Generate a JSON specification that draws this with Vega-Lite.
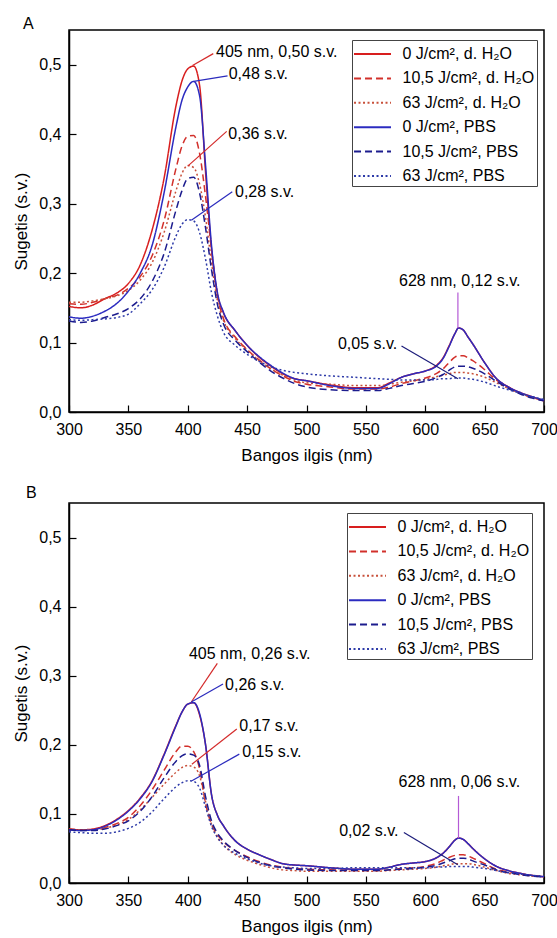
{
  "$schema": "https://vega.github.io/schema/vega-lite/v6.json",
  "padding": {"left": 12, "top": 15, "right": 4, "bottom": 4},
  "background": "white",
  "config": {
    "font": "Liberation Sans",
    "view": {"stroke": "#000", "strokeWidth": 1.5},
    "title": {"fontSize": 16, "fontWeight": "normal", "color": "#000", "anchor": "start", "frame": "group"},
    "axis": {
      "grid": false, "domainColor": "#000", "domainWidth": 1.5, "tickColor": "#000", "tickWidth": 1.2,
      "labelFontSize": 16, "titleFontSize": 17, "titleFontWeight": "normal", "labelColor": "#000", "titleColor": "#000",
      "labelOverlap": false, "labelFlush": false
    },
    "legend": {
      "orient": "none", "title": null, "labelFontSize": 16, "labelColor": "#000",
      "symbolType": "M-1.68,0H1.68", "symbolSize": 484, "symbolStrokeWidth": 2, "symbolOffset": 6.5,
      "labelOffset": 18, "rowPadding": 4.4, "padding": 2, "strokeColor": "#444", "fillColor": "white"
    }
  },
  "datasets": {
    "specA": [
      {"s":"h0","x":300,"y":0.152},{"s":"h0","x":310,"y":0.150},{"s":"h0","x":320,"y":0.154},{"s":"h0","x":330,"y":0.163},{"s":"h0","x":340,"y":0.171},{"s":"h0","x":350,"y":0.185},{"s":"h0","x":360,"y":0.212},{"s":"h0","x":370,"y":0.262},{"s":"h0","x":380,"y":0.336},{"s":"h0","x":390,"y":0.44},{"s":"h0","x":395,"y":0.476},{"s":"h0","x":400,"y":0.494},{"s":"h0","x":405,"y":0.498},{"s":"h0","x":410,"y":0.47},{"s":"h0","x":415,"y":0.345},{"s":"h0","x":420,"y":0.235},{"s":"h0","x":425,"y":0.17},{"s":"h0","x":430,"y":0.143},{"s":"h0","x":440,"y":0.117},{"s":"h0","x":450,"y":0.096},{"s":"h0","x":460,"y":0.079},{"s":"h0","x":470,"y":0.066},{"s":"h0","x":480,"y":0.055},{"s":"h0","x":490,"y":0.048},{"s":"h0","x":500,"y":0.045},{"s":"h0","x":520,"y":0.039},{"s":"h0","x":540,"y":0.035},{"s":"h0","x":560,"y":0.035},{"s":"h0","x":570,"y":0.042},{"s":"h0","x":580,"y":0.050},{"s":"h0","x":590,"y":0.055},{"s":"h0","x":600,"y":0.059},{"s":"h0","x":610,"y":0.068},{"s":"h0","x":615,"y":0.078},{"s":"h0","x":620,"y":0.095},{"s":"h0","x":625,"y":0.113},{"s":"h0","x":628,"y":0.121},{"s":"h0","x":632,"y":0.118},{"s":"h0","x":636,"y":0.108},{"s":"h0","x":640,"y":0.098},{"s":"h0","x":650,"y":0.071},{"s":"h0","x":660,"y":0.048},{"s":"h0","x":670,"y":0.036},{"s":"h0","x":680,"y":0.028},{"s":"h0","x":690,"y":0.022},{"s":"h0","x":700,"y":0.016},
      {"s":"h10","x":300,"y":0.156},{"s":"h10","x":310,"y":0.155},{"s":"h10","x":320,"y":0.158},{"s":"h10","x":330,"y":0.163},{"s":"h10","x":340,"y":0.168},{"s":"h10","x":350,"y":0.178},{"s":"h10","x":360,"y":0.195},{"s":"h10","x":370,"y":0.225},{"s":"h10","x":380,"y":0.275},{"s":"h10","x":390,"y":0.35},{"s":"h10","x":395,"y":0.382},{"s":"h10","x":400,"y":0.397},{"s":"h10","x":405,"y":0.398},{"s":"h10","x":410,"y":0.372},{"s":"h10","x":415,"y":0.31},{"s":"h10","x":420,"y":0.235},{"s":"h10","x":425,"y":0.168},{"s":"h10","x":430,"y":0.135},{"s":"h10","x":440,"y":0.108},{"s":"h10","x":450,"y":0.09},{"s":"h10","x":460,"y":0.075},{"s":"h10","x":470,"y":0.062},{"s":"h10","x":480,"y":0.052},{"s":"h10","x":490,"y":0.044},{"s":"h10","x":500,"y":0.040},{"s":"h10","x":520,"y":0.036},{"s":"h10","x":540,"y":0.033},{"s":"h10","x":560,"y":0.033},{"s":"h10","x":570,"y":0.036},{"s":"h10","x":580,"y":0.041},{"s":"h10","x":590,"y":0.045},{"s":"h10","x":600,"y":0.049},{"s":"h10","x":610,"y":0.056},{"s":"h10","x":615,"y":0.062},{"s":"h10","x":620,"y":0.071},{"s":"h10","x":625,"y":0.079},{"s":"h10","x":628,"y":0.081},{"s":"h10","x":632,"y":0.081},{"s":"h10","x":636,"y":0.078},{"s":"h10","x":640,"y":0.074},{"s":"h10","x":650,"y":0.061},{"s":"h10","x":660,"y":0.046},{"s":"h10","x":670,"y":0.036},{"s":"h10","x":680,"y":0.027},{"s":"h10","x":690,"y":0.021},{"s":"h10","x":700,"y":0.016},
      {"s":"h63","x":300,"y":0.158},{"s":"h63","x":310,"y":0.158},{"s":"h63","x":320,"y":0.160},{"s":"h63","x":330,"y":0.163},{"s":"h63","x":340,"y":0.167},{"s":"h63","x":350,"y":0.175},{"s":"h63","x":360,"y":0.19},{"s":"h63","x":370,"y":0.215},{"s":"h63","x":380,"y":0.258},{"s":"h63","x":390,"y":0.318},{"s":"h63","x":395,"y":0.343},{"s":"h63","x":400,"y":0.355},{"s":"h63","x":405,"y":0.352},{"s":"h63","x":410,"y":0.328},{"s":"h63","x":415,"y":0.28},{"s":"h63","x":420,"y":0.215},{"s":"h63","x":425,"y":0.16},{"s":"h63","x":430,"y":0.132},{"s":"h63","x":440,"y":0.106},{"s":"h63","x":450,"y":0.089},{"s":"h63","x":460,"y":0.074},{"s":"h63","x":470,"y":0.062},{"s":"h63","x":480,"y":0.053},{"s":"h63","x":490,"y":0.046},{"s":"h63","x":500,"y":0.042},{"s":"h63","x":520,"y":0.040},{"s":"h63","x":540,"y":0.038},{"s":"h63","x":560,"y":0.038},{"s":"h63","x":570,"y":0.040},{"s":"h63","x":580,"y":0.043},{"s":"h63","x":590,"y":0.045},{"s":"h63","x":600,"y":0.047},{"s":"h63","x":610,"y":0.051},{"s":"h63","x":615,"y":0.053},{"s":"h63","x":620,"y":0.055},{"s":"h63","x":625,"y":0.057},{"s":"h63","x":628,"y":0.057},{"s":"h63","x":632,"y":0.057},{"s":"h63","x":636,"y":0.056},{"s":"h63","x":640,"y":0.055},{"s":"h63","x":650,"y":0.05},{"s":"h63","x":660,"y":0.042},{"s":"h63","x":670,"y":0.034},{"s":"h63","x":680,"y":0.027},{"s":"h63","x":690,"y":0.021},{"s":"h63","x":700,"y":0.017},
      {"s":"p0","x":300,"y":0.137},{"s":"p0","x":310,"y":0.135},{"s":"p0","x":320,"y":0.138},{"s":"p0","x":330,"y":0.145},{"s":"p0","x":340,"y":0.156},{"s":"p0","x":350,"y":0.174},{"s":"p0","x":360,"y":0.200},{"s":"p0","x":370,"y":0.240},{"s":"p0","x":380,"y":0.315},{"s":"p0","x":390,"y":0.41},{"s":"p0","x":395,"y":0.448},{"s":"p0","x":400,"y":0.468},{"s":"p0","x":405,"y":0.476},{"s":"p0","x":410,"y":0.455},{"s":"p0","x":415,"y":0.355},{"s":"p0","x":420,"y":0.24},{"s":"p0","x":425,"y":0.172},{"s":"p0","x":430,"y":0.144},{"s":"p0","x":440,"y":0.117},{"s":"p0","x":450,"y":0.096},{"s":"p0","x":460,"y":0.080},{"s":"p0","x":470,"y":0.067},{"s":"p0","x":480,"y":0.056},{"s":"p0","x":490,"y":0.048},{"s":"p0","x":500,"y":0.045},{"s":"p0","x":520,"y":0.038},{"s":"p0","x":540,"y":0.034},{"s":"p0","x":560,"y":0.034},{"s":"p0","x":570,"y":0.041},{"s":"p0","x":580,"y":0.050},{"s":"p0","x":590,"y":0.055},{"s":"p0","x":600,"y":0.059},{"s":"p0","x":610,"y":0.067},{"s":"p0","x":615,"y":0.077},{"s":"p0","x":620,"y":0.094},{"s":"p0","x":625,"y":0.113},{"s":"p0","x":628,"y":0.121},{"s":"p0","x":632,"y":0.118},{"s":"p0","x":636,"y":0.108},{"s":"p0","x":640,"y":0.098},{"s":"p0","x":650,"y":0.071},{"s":"p0","x":660,"y":0.048},{"s":"p0","x":670,"y":0.036},{"s":"p0","x":680,"y":0.028},{"s":"p0","x":690,"y":0.022},{"s":"p0","x":700,"y":0.017},
      {"s":"p10","x":300,"y":0.131},{"s":"p10","x":310,"y":0.129},{"s":"p10","x":320,"y":0.131},{"s":"p10","x":330,"y":0.136},{"s":"p10","x":340,"y":0.141},{"s":"p10","x":350,"y":0.149},{"s":"p10","x":360,"y":0.163},{"s":"p10","x":370,"y":0.188},{"s":"p10","x":380,"y":0.228},{"s":"p10","x":390,"y":0.29},{"s":"p10","x":395,"y":0.318},{"s":"p10","x":400,"y":0.336},{"s":"p10","x":405,"y":0.338},{"s":"p10","x":410,"y":0.315},{"s":"p10","x":415,"y":0.265},{"s":"p10","x":420,"y":0.205},{"s":"p10","x":425,"y":0.155},{"s":"p10","x":430,"y":0.127},{"s":"p10","x":440,"y":0.103},{"s":"p10","x":450,"y":0.087},{"s":"p10","x":460,"y":0.072},{"s":"p10","x":470,"y":0.059},{"s":"p10","x":480,"y":0.049},{"s":"p10","x":490,"y":0.041},{"s":"p10","x":500,"y":0.036},{"s":"p10","x":520,"y":0.032},{"s":"p10","x":540,"y":0.031},{"s":"p10","x":560,"y":0.031},{"s":"p10","x":570,"y":0.034},{"s":"p10","x":580,"y":0.038},{"s":"p10","x":590,"y":0.041},{"s":"p10","x":600,"y":0.044},{"s":"p10","x":610,"y":0.05},{"s":"p10","x":615,"y":0.054},{"s":"p10","x":620,"y":0.06},{"s":"p10","x":625,"y":0.065},{"s":"p10","x":628,"y":0.066},{"s":"p10","x":632,"y":0.066},{"s":"p10","x":636,"y":0.065},{"s":"p10","x":640,"y":0.063},{"s":"p10","x":650,"y":0.055},{"s":"p10","x":660,"y":0.044},{"s":"p10","x":670,"y":0.034},{"s":"p10","x":680,"y":0.026},{"s":"p10","x":690,"y":0.020},{"s":"p10","x":700,"y":0.016},
      {"s":"p63","x":300,"y":0.133},{"s":"p63","x":310,"y":0.132},{"s":"p63","x":320,"y":0.133},{"s":"p63","x":330,"y":0.134},{"s":"p63","x":340,"y":0.136},{"s":"p63","x":350,"y":0.141},{"s":"p63","x":360,"y":0.156},{"s":"p63","x":370,"y":0.176},{"s":"p63","x":380,"y":0.208},{"s":"p63","x":390,"y":0.253},{"s":"p63","x":395,"y":0.27},{"s":"p63","x":400,"y":0.277},{"s":"p63","x":405,"y":0.275},{"s":"p63","x":410,"y":0.258},{"s":"p63","x":415,"y":0.22},{"s":"p63","x":420,"y":0.172},{"s":"p63","x":425,"y":0.138},{"s":"p63","x":430,"y":0.115},{"s":"p63","x":440,"y":0.096},{"s":"p63","x":450,"y":0.083},{"s":"p63","x":460,"y":0.073},{"s":"p63","x":470,"y":0.065},{"s":"p63","x":480,"y":0.06},{"s":"p63","x":490,"y":0.057},{"s":"p63","x":500,"y":0.055},{"s":"p63","x":520,"y":0.052},{"s":"p63","x":540,"y":0.050},{"s":"p63","x":560,"y":0.048},{"s":"p63","x":570,"y":0.047},{"s":"p63","x":580,"y":0.046},{"s":"p63","x":590,"y":0.046},{"s":"p63","x":600,"y":0.046},{"s":"p63","x":610,"y":0.047},{"s":"p63","x":615,"y":0.048},{"s":"p63","x":620,"y":0.048},{"s":"p63","x":625,"y":0.049},{"s":"p63","x":628,"y":0.049},{"s":"p63","x":632,"y":0.049},{"s":"p63","x":636,"y":0.048},{"s":"p63","x":640,"y":0.047},{"s":"p63","x":650,"y":0.043},{"s":"p63","x":660,"y":0.037},{"s":"p63","x":670,"y":0.032},{"s":"p63","x":680,"y":0.027},{"s":"p63","x":690,"y":0.022},{"s":"p63","x":700,"y":0.018}
    ],
    "specB": [
      {"s":"h0","x":300,"y":0.078},{"s":"h0","x":310,"y":0.077},{"s":"h0","x":320,"y":0.078},{"s":"h0","x":330,"y":0.083},{"s":"h0","x":340,"y":0.092},{"s":"h0","x":350,"y":0.105},{"s":"h0","x":360,"y":0.123},{"s":"h0","x":370,"y":0.148},{"s":"h0","x":380,"y":0.186},{"s":"h0","x":390,"y":0.228},{"s":"h0","x":395,"y":0.247},{"s":"h0","x":400,"y":0.259},{"s":"h0","x":405,"y":0.261},{"s":"h0","x":410,"y":0.243},{"s":"h0","x":415,"y":0.2},{"s":"h0","x":420,"y":0.128},{"s":"h0","x":425,"y":0.098},{"s":"h0","x":430,"y":0.083},{"s":"h0","x":440,"y":0.061},{"s":"h0","x":450,"y":0.049},{"s":"h0","x":460,"y":0.041},{"s":"h0","x":470,"y":0.034},{"s":"h0","x":480,"y":0.028},{"s":"h0","x":490,"y":0.026},{"s":"h0","x":500,"y":0.025},{"s":"h0","x":520,"y":0.022},{"s":"h0","x":540,"y":0.020},{"s":"h0","x":560,"y":0.020},{"s":"h0","x":570,"y":0.023},{"s":"h0","x":580,"y":0.027},{"s":"h0","x":590,"y":0.029},{"s":"h0","x":600,"y":0.031},{"s":"h0","x":610,"y":0.037},{"s":"h0","x":615,"y":0.043},{"s":"h0","x":620,"y":0.052},{"s":"h0","x":625,"y":0.062},{"s":"h0","x":628,"y":0.065},{"s":"h0","x":632,"y":0.063},{"s":"h0","x":636,"y":0.057},{"s":"h0","x":640,"y":0.050},{"s":"h0","x":650,"y":0.035},{"s":"h0","x":660,"y":0.024},{"s":"h0","x":670,"y":0.018},{"s":"h0","x":680,"y":0.014},{"s":"h0","x":690,"y":0.011},{"s":"h0","x":700,"y":0.009},
      {"s":"h10","x":300,"y":0.078},{"s":"h10","x":310,"y":0.077},{"s":"h10","x":320,"y":0.077},{"s":"h10","x":330,"y":0.080},{"s":"h10","x":340,"y":0.086},{"s":"h10","x":350,"y":0.095},{"s":"h10","x":360,"y":0.112},{"s":"h10","x":370,"y":0.135},{"s":"h10","x":380,"y":0.163},{"s":"h10","x":390,"y":0.19},{"s":"h10","x":395,"y":0.198},{"s":"h10","x":400,"y":0.198},{"s":"h10","x":405,"y":0.19},{"s":"h10","x":410,"y":0.165},{"s":"h10","x":415,"y":0.115},{"s":"h10","x":420,"y":0.085},{"s":"h10","x":425,"y":0.07},{"s":"h10","x":430,"y":0.06},{"s":"h10","x":440,"y":0.047},{"s":"h10","x":450,"y":0.038},{"s":"h10","x":460,"y":0.031},{"s":"h10","x":470,"y":0.026},{"s":"h10","x":480,"y":0.023},{"s":"h10","x":490,"y":0.021},{"s":"h10","x":500,"y":0.020},{"s":"h10","x":520,"y":0.019},{"s":"h10","x":540,"y":0.018},{"s":"h10","x":560,"y":0.018},{"s":"h10","x":570,"y":0.019},{"s":"h10","x":580,"y":0.021},{"s":"h10","x":590,"y":0.022},{"s":"h10","x":600,"y":0.024},{"s":"h10","x":610,"y":0.029},{"s":"h10","x":615,"y":0.033},{"s":"h10","x":620,"y":0.037},{"s":"h10","x":625,"y":0.040},{"s":"h10","x":628,"y":0.041},{"s":"h10","x":632,"y":0.041},{"s":"h10","x":636,"y":0.039},{"s":"h10","x":640,"y":0.036},{"s":"h10","x":650,"y":0.028},{"s":"h10","x":660,"y":0.020},{"s":"h10","x":670,"y":0.016},{"s":"h10","x":680,"y":0.013},{"s":"h10","x":690,"y":0.011},{"s":"h10","x":700,"y":0.009},
      {"s":"h63","x":300,"y":0.077},{"s":"h63","x":310,"y":0.077},{"s":"h63","x":320,"y":0.077},{"s":"h63","x":330,"y":0.079},{"s":"h63","x":340,"y":0.084},{"s":"h63","x":350,"y":0.092},{"s":"h63","x":360,"y":0.106},{"s":"h63","x":370,"y":0.124},{"s":"h63","x":380,"y":0.143},{"s":"h63","x":390,"y":0.160},{"s":"h63","x":395,"y":0.167},{"s":"h63","x":400,"y":0.170},{"s":"h63","x":405,"y":0.168},{"s":"h63","x":410,"y":0.155},{"s":"h63","x":415,"y":0.118},{"s":"h63","x":420,"y":0.085},{"s":"h63","x":425,"y":0.066},{"s":"h63","x":430,"y":0.055},{"s":"h63","x":440,"y":0.041},{"s":"h63","x":450,"y":0.033},{"s":"h63","x":460,"y":0.027},{"s":"h63","x":470,"y":0.022},{"s":"h63","x":480,"y":0.019},{"s":"h63","x":490,"y":0.018},{"s":"h63","x":500,"y":0.017},{"s":"h63","x":520,"y":0.017},{"s":"h63","x":540,"y":0.017},{"s":"h63","x":560,"y":0.017},{"s":"h63","x":570,"y":0.018},{"s":"h63","x":580,"y":0.019},{"s":"h63","x":590,"y":0.020},{"s":"h63","x":600,"y":0.021},{"s":"h63","x":610,"y":0.023},{"s":"h63","x":615,"y":0.025},{"s":"h63","x":620,"y":0.026},{"s":"h63","x":625,"y":0.028},{"s":"h63","x":628,"y":0.028},{"s":"h63","x":632,"y":0.028},{"s":"h63","x":636,"y":0.028},{"s":"h63","x":640,"y":0.027},{"s":"h63","x":650,"y":0.023},{"s":"h63","x":660,"y":0.018},{"s":"h63","x":670,"y":0.014},{"s":"h63","x":680,"y":0.012},{"s":"h63","x":690,"y":0.010},{"s":"h63","x":700,"y":0.009},
      {"s":"p0","x":300,"y":0.077},{"s":"p0","x":310,"y":0.076},{"s":"p0","x":320,"y":0.077},{"s":"p0","x":330,"y":0.082},{"s":"p0","x":340,"y":0.091},{"s":"p0","x":350,"y":0.104},{"s":"p0","x":360,"y":0.122},{"s":"p0","x":370,"y":0.147},{"s":"p0","x":380,"y":0.185},{"s":"p0","x":390,"y":0.227},{"s":"p0","x":395,"y":0.247},{"s":"p0","x":400,"y":0.259},{"s":"p0","x":405,"y":0.261},{"s":"p0","x":410,"y":0.245},{"s":"p0","x":415,"y":0.2},{"s":"p0","x":420,"y":0.128},{"s":"p0","x":425,"y":0.098},{"s":"p0","x":430,"y":0.083},{"s":"p0","x":440,"y":0.061},{"s":"p0","x":450,"y":0.049},{"s":"p0","x":460,"y":0.041},{"s":"p0","x":470,"y":0.034},{"s":"p0","x":480,"y":0.028},{"s":"p0","x":490,"y":0.026},{"s":"p0","x":500,"y":0.025},{"s":"p0","x":520,"y":0.022},{"s":"p0","x":540,"y":0.020},{"s":"p0","x":560,"y":0.020},{"s":"p0","x":570,"y":0.023},{"s":"p0","x":580,"y":0.027},{"s":"p0","x":590,"y":0.029},{"s":"p0","x":600,"y":0.031},{"s":"p0","x":610,"y":0.037},{"s":"p0","x":615,"y":0.043},{"s":"p0","x":620,"y":0.052},{"s":"p0","x":625,"y":0.062},{"s":"p0","x":628,"y":0.065},{"s":"p0","x":632,"y":0.063},{"s":"p0","x":636,"y":0.057},{"s":"p0","x":640,"y":0.050},{"s":"p0","x":650,"y":0.035},{"s":"p0","x":660,"y":0.024},{"s":"p0","x":670,"y":0.018},{"s":"p0","x":680,"y":0.014},{"s":"p0","x":690,"y":0.011},{"s":"p0","x":700,"y":0.009},
      {"s":"p10","x":300,"y":0.077},{"s":"p10","x":310,"y":0.076},{"s":"p10","x":320,"y":0.076},{"s":"p10","x":330,"y":0.078},{"s":"p10","x":340,"y":0.083},{"s":"p10","x":350,"y":0.090},{"s":"p10","x":360,"y":0.104},{"s":"p10","x":370,"y":0.125},{"s":"p10","x":380,"y":0.152},{"s":"p10","x":390,"y":0.176},{"s":"p10","x":395,"y":0.184},{"s":"p10","x":400,"y":0.187},{"s":"p10","x":405,"y":0.185},{"s":"p10","x":410,"y":0.17},{"s":"p10","x":415,"y":0.125},{"s":"p10","x":420,"y":0.09},{"s":"p10","x":425,"y":0.072},{"s":"p10","x":430,"y":0.061},{"s":"p10","x":440,"y":0.047},{"s":"p10","x":450,"y":0.037},{"s":"p10","x":460,"y":0.030},{"s":"p10","x":470,"y":0.025},{"s":"p10","x":480,"y":0.022},{"s":"p10","x":490,"y":0.020},{"s":"p10","x":500,"y":0.019},{"s":"p10","x":520,"y":0.018},{"s":"p10","x":540,"y":0.018},{"s":"p10","x":560,"y":0.018},{"s":"p10","x":570,"y":0.019},{"s":"p10","x":580,"y":0.020},{"s":"p10","x":590,"y":0.021},{"s":"p10","x":600,"y":0.023},{"s":"p10","x":610,"y":0.026},{"s":"p10","x":615,"y":0.029},{"s":"p10","x":620,"y":0.032},{"s":"p10","x":625,"y":0.035},{"s":"p10","x":628,"y":0.036},{"s":"p10","x":632,"y":0.036},{"s":"p10","x":636,"y":0.035},{"s":"p10","x":640,"y":0.032},{"s":"p10","x":650,"y":0.026},{"s":"p10","x":660,"y":0.019},{"s":"p10","x":670,"y":0.015},{"s":"p10","x":680,"y":0.012},{"s":"p10","x":690,"y":0.010},{"s":"p10","x":700,"y":0.009},
      {"s":"p63","x":300,"y":0.074},{"s":"p63","x":310,"y":0.073},{"s":"p63","x":320,"y":0.072},{"s":"p63","x":330,"y":0.072},{"s":"p63","x":340,"y":0.074},{"s":"p63","x":350,"y":0.079},{"s":"p63","x":360,"y":0.088},{"s":"p63","x":370,"y":0.103},{"s":"p63","x":380,"y":0.122},{"s":"p63","x":390,"y":0.139},{"s":"p63","x":395,"y":0.145},{"s":"p63","x":400,"y":0.148},{"s":"p63","x":405,"y":0.147},{"s":"p63","x":410,"y":0.137},{"s":"p63","x":415,"y":0.11},{"s":"p63","x":420,"y":0.082},{"s":"p63","x":425,"y":0.066},{"s":"p63","x":430,"y":0.055},{"s":"p63","x":440,"y":0.043},{"s":"p63","x":450,"y":0.035},{"s":"p63","x":460,"y":0.029},{"s":"p63","x":470,"y":0.025},{"s":"p63","x":480,"y":0.023},{"s":"p63","x":490,"y":0.022},{"s":"p63","x":500,"y":0.021},{"s":"p63","x":520,"y":0.021},{"s":"p63","x":540,"y":0.022},{"s":"p63","x":560,"y":0.022},{"s":"p63","x":570,"y":0.022},{"s":"p63","x":580,"y":0.022},{"s":"p63","x":590,"y":0.022},{"s":"p63","x":600,"y":0.022},{"s":"p63","x":610,"y":0.023},{"s":"p63","x":615,"y":0.023},{"s":"p63","x":620,"y":0.024},{"s":"p63","x":625,"y":0.024},{"s":"p63","x":628,"y":0.024},{"s":"p63","x":632,"y":0.024},{"s":"p63","x":636,"y":0.024},{"s":"p63","x":640,"y":0.023},{"s":"p63","x":650,"y":0.021},{"s":"p63","x":660,"y":0.018},{"s":"p63","x":670,"y":0.015},{"s":"p63","x":680,"y":0.013},{"s":"p63","x":690,"y":0.011},{"s":"p63","x":700,"y":0.010}
    ],
    "leadA": [
      {"x":404,"y":0.499,"x2":421.5,"y2":0.516,"k":"r"},
      {"x":405,"y":0.476,"x2":433.5,"y2":0.484,"k":"b"},
      {"x":400,"y":0.354,"x2":432.8,"y2":0.404,"k":"r"},
      {"x":403,"y":0.276,"x2":437.5,"y2":0.317,"k":"b"},
      {"x":627.5,"y":0.121,"x2":627.5,"y2":0.172,"k":"v"},
      {"x":580,"y":0.095,"x2":627.5,"y2":0.048,"k":"n"}
    ],
    "textA": [
      {"x":423.8,"y":0.519,"t":"405 nm, 0,50 s.v."},
      {"x":434.5,"y":0.486,"t":"0,48 s.v."},
      {"x":434.2,"y":0.40,"t":"0,36 s.v."},
      {"x":439.8,"y":0.317,"t":"0,28 s.v."},
      {"x":577.9,"y":0.189,"t":"628 nm, 0,12 s.v."},
      {"x":526.5,"y":0.098,"t":"0,05 s.v."}
    ],
    "leadB": [
      {"x":403,"y":0.262,"x2":424.9,"y2":0.318,"k":"r"},
      {"x":403,"y":0.262,"x2":429.7,"y2":0.288,"k":"b"},
      {"x":403.5,"y":0.172,"x2":441.3,"y2":0.223,"k":"r"},
      {"x":403.5,"y":0.148,"x2":443.4,"y2":0.1865,"k":"b"},
      {"x":628,"y":0.065,"x2":628,"y2":0.126,"k":"v"},
      {"x":582,"y":0.073,"x2":627.4,"y2":0.0265,"k":"n"}
    ],
    "textB": [
      {"x":401,"y":0.331,"t":"405 nm, 0,26 s.v."},
      {"x":431.4,"y":0.287,"t":"0,26 s.v."},
      {"x":443.4,"y":0.227,"t":"0,17 s.v."},
      {"x":445.8,"y":0.189,"t":"0,15 s.v."},
      {"x":577.5,"y":0.1455,"t":"628 nm, 0,06 s.v."},
      {"x":527.5,"y":0.0757,"t":"0,02 s.v."}
    ]
  },
  "vconcat": [
    {
      "width": 475, "height": 382,
      "title": {"text": "A", "dx": -46, "offset": -15, "baseline": "alphabetic"},
      "layer": [
        {
          "data": {"name": "specA"},
          "mark": {"type": "line", "interpolate": "monotone", "strokeWidth": 1.5},
          "encoding": {
            "x": {"field": "x", "type": "quantitative", "scale": {"domain": [300, 700], "nice": false},
              "axis": {"title": "Bangos ilgis (nm)", "values": [300,325,350,375,400,425,450,475,500,525,550,575,600,625,650,675,700],
                "labelExpr": "datum.value % 50 == 0 ? datum.label : ''", "format": "d",
                "tickSize": {"condition": {"test": "datum.value % 50 != 0", "value": -4}, "value": -7},
                "labelPadding": 16, "titlePadding": 10}},
            "y": {"field": "y", "type": "quantitative", "scale": {"domain": [0, 0.55], "nice": false},
              "axis": {"title": "Sugetis (s.v.)", "values": [0,0.05,0.1,0.15,0.2,0.25,0.3,0.35,0.4,0.45,0.5],
                "labelExpr": "round(datum.value*100) % 10 == 0 ? replace(format(datum.value, '.1f'), '.', ',') : ''",
                "tickSize": {"condition": {"test": "round(datum.value*100) % 10 != 0", "value": -4}, "value": -7},
                "labelPadding": 15, "titlePadding": 8}},
            "color": {"field": "s", "type": "nominal",
              "scale": {"domain": ["h0","h10","h63","p0","p10","p63"], "range": ["#d81e1e","#d2302b","#c8503a","#2b2bc0","#1c1c8e","#2d3aa8"]},
              "legend": {"legendX": 283, "legendY": 10,
                "labelExpr": "datum.label == 'h0' ? '0 J/cm², d. H₂O' : datum.label == 'h10' ? '10,5 J/cm², d. H₂O' : datum.label == 'h63' ? '63 J/cm², d. H₂O' : datum.label == 'p0' ? '0 J/cm², PBS' : datum.label == 'p10' ? '10,5 J/cm², PBS' : '63 J/cm², PBS'"}},
            "strokeDash": {"field": "s", "type": "nominal",
              "scale": {"domain": ["h0","h10","h63","p0","p10","p63"], "range": [[1,0],[7,4],[2,2.5],[1,0],[7,4],[2,2.5]]},
              "legend": {"legendX": 283, "legendY": 10,
                "labelExpr": "datum.label == 'h0' ? '0 J/cm², d. H₂O' : datum.label == 'h10' ? '10,5 J/cm², d. H₂O' : datum.label == 'h63' ? '63 J/cm², d. H₂O' : datum.label == 'p0' ? '0 J/cm², PBS' : datum.label == 'p10' ? '10,5 J/cm², PBS' : '63 J/cm², PBS'"}}
          }
        },
        {
          "data": {"name": "leadA"},
          "mark": {"type": "rule", "strokeWidth": 1.2},
          "encoding": {
            "x": {"field": "x", "type": "quantitative"}, "y": {"field": "y", "type": "quantitative"},
            "x2": {"field": "x2"}, "y2": {"field": "y2"},
            "stroke": {"field": "k", "type": "nominal", "scale": {"domain": ["r","b","n","v"], "range": ["#d42a2a","#2b2bbd","#1c1c7a","#b45ad6"]}, "legend": null}
          }
        },
        {
          "data": {"name": "textA"},
          "mark": {"type": "text", "align": "left", "baseline": "middle", "fontSize": 16, "color": "#000"},
          "encoding": {
            "x": {"field": "x", "type": "quantitative"}, "y": {"field": "y", "type": "quantitative"},
            "text": {"field": "t"}
          }
        }
      ]
    },
    {
      "width": 475, "height": 380,
      "title": {"text": "B", "dx": -43, "offset": -11, "baseline": "alphabetic"},
      "layer": [
        {
          "data": {"name": "specB"},
          "mark": {"type": "line", "interpolate": "monotone", "strokeWidth": 1.5},
          "encoding": {
            "x": {"field": "x", "type": "quantitative", "scale": {"domain": [300, 700], "nice": false},
              "axis": {"title": "Bangos ilgis (nm)", "values": [300,325,350,375,400,425,450,475,500,525,550,575,600,625,650,675,700],
                "labelExpr": "datum.value % 50 == 0 ? datum.label : ''", "format": "d",
                "tickSize": {"condition": {"test": "datum.value % 50 != 0", "value": -4}, "value": -7},
                "labelPadding": 16, "titlePadding": 10}},
            "y": {"field": "y", "type": "quantitative", "scale": {"domain": [0, 0.55], "nice": false},
              "axis": {"title": "Sugetis (s.v.)", "values": [0,0.05,0.1,0.15,0.2,0.25,0.3,0.35,0.4,0.45,0.5],
                "labelExpr": "round(datum.value*100) % 10 == 0 ? replace(format(datum.value, '.1f'), '.', ',') : ''",
                "tickSize": {"condition": {"test": "round(datum.value*100) % 10 != 0", "value": -4}, "value": -7},
                "labelPadding": 15, "titlePadding": 8}},
            "color": {"field": "s", "type": "nominal",
              "scale": {"domain": ["h0","h10","h63","p0","p10","p63"], "range": ["#d81e1e","#d2302b","#c8503a","#2b2bc0","#1c1c8e","#2d3aa8"]},
              "legend": {"legendX": 278, "legendY": 10,
                "labelExpr": "datum.label == 'h0' ? '0 J/cm², d. H₂O' : datum.label == 'h10' ? '10,5 J/cm², d. H₂O' : datum.label == 'h63' ? '63 J/cm², d. H₂O' : datum.label == 'p0' ? '0 J/cm², PBS' : datum.label == 'p10' ? '10,5 J/cm², PBS' : '63 J/cm², PBS'"}},
            "strokeDash": {"field": "s", "type": "nominal",
              "scale": {"domain": ["h0","h10","h63","p0","p10","p63"], "range": [[1,0],[7,4],[2,2.5],[1,0],[7,4],[2,2.5]]},
              "legend": {"legendX": 278, "legendY": 10,
                "labelExpr": "datum.label == 'h0' ? '0 J/cm², d. H₂O' : datum.label == 'h10' ? '10,5 J/cm², d. H₂O' : datum.label == 'h63' ? '63 J/cm², d. H₂O' : datum.label == 'p0' ? '0 J/cm², PBS' : datum.label == 'p10' ? '10,5 J/cm², PBS' : '63 J/cm², PBS'"}}
          }
        },
        {
          "data": {"name": "leadB"},
          "mark": {"type": "rule", "strokeWidth": 1.2},
          "encoding": {
            "x": {"field": "x", "type": "quantitative"}, "y": {"field": "y", "type": "quantitative"},
            "x2": {"field": "x2"}, "y2": {"field": "y2"},
            "stroke": {"field": "k", "type": "nominal", "scale": {"domain": ["r","b","n","v"], "range": ["#d42a2a","#2b2bbd","#1c1c7a","#b45ad6"]}, "legend": null}
          }
        },
        {
          "data": {"name": "textB"},
          "mark": {"type": "text", "align": "left", "baseline": "middle", "fontSize": 16, "color": "#000"},
          "encoding": {
            "x": {"field": "x", "type": "quantitative"}, "y": {"field": "y", "type": "quantitative"},
            "text": {"field": "t"}
          }
        }
      ]
    }
  ],
  "spacing": 20,
  "resolve": {
    "scale": {"color": "independent", "strokeDash": "independent", "stroke": "independent"},
    "legend": {"color": "independent", "strokeDash": "independent"}
  }
}
